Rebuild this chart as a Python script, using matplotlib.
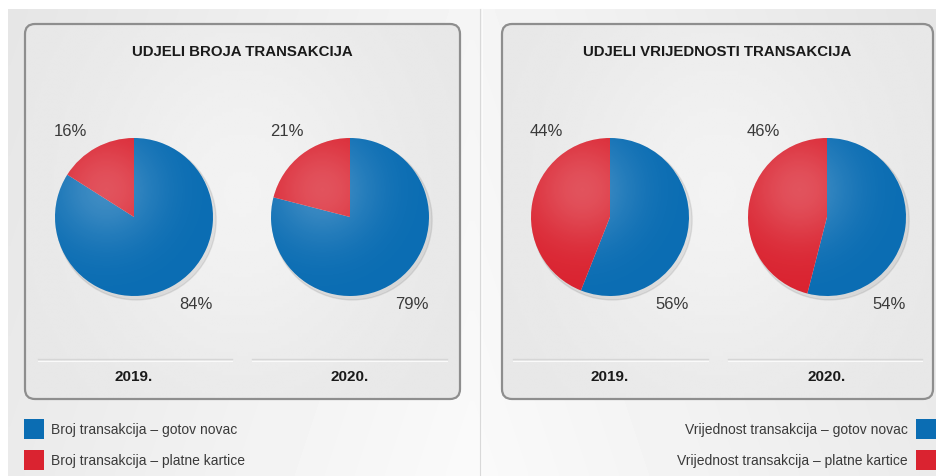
import numpy as np
import matplotlib
matplotlib.use('Agg')
import matplotlib.pyplot as plt
from matplotlib.patches import FancyBboxPatch, Rectangle, Circle

plt.rcParams['font.family'] = ['Liberation Sans', 'DejaVu Sans']

# DATA
panel_titles = ['UDJELI BROJA TRANSAKCIJA', 'UDJELI VRIJEDNOSTI TRANSAKCIJA']
years = ['2019.', '2020.']
cash_share = [[84, 79], [56, 54]]   # gotov novac
card_share = [[16, 21], [44, 46]]   # platne kartice
legend_left = ['Broj transakcija – gotov novac', 'Broj transakcija – platne kartice']
legend_right = ['Vrijednost transakcija – gotov novac', 'Vrijednost transakcija – platne kartice']

BLUE = '#0b6db3'
RED = '#da2330'
TXT = '#3a3a3a'

W, H = 936, 477
fig = plt.figure(figsize=(W / 100, H / 100), dpi=100)
fig.patch.set_facecolor('white')

bg = fig.add_axes([0, 0, 1, 1])
bg.set_xlim(0, W)
bg.set_ylim(H, 0)
bg.axis('off')

# page background with soft gradient
xx, yy = np.meshgrid(np.linspace(0, 1, 200), np.linspace(0, 1, 100))
grad = 0.90 + 0.06 * (1 - np.abs(xx - 0.5) * 2) + 0.02 * yy
bg.imshow(grad, cmap='gray', vmin=0, vmax=1, extent=[8, W, H, 10],
          aspect='auto', interpolation='bilinear', zorder=0)
bg.plot([480, 480], [10, H], color='#d9d9d9', lw=0.8, zorder=1)
bg.plot([482, 482], [10, H], color='#fbfbfb', lw=0.8, zorder=1)

# panels
panels = [(25, 460), (502, 933)]
pie_cx = [[134, 350], [610, 827]]
pie_cy = 218
R = 79
lines_x = [[(38, 232), (252, 447)], [(513, 708), (728, 922)]]

pg = 0.905 + 0.045 * np.exp(-((xx - 0.5) ** 2) / 0.12 - ((yy - 0.45) ** 2) / 0.25)

for p, (x0, x1) in enumerate(panels):
    box = FancyBboxPatch((x0, 25), x1 - x0, 375,
                         boxstyle='round,pad=0,rounding_size=10',
                         facecolor='none', edgecolor='#8e8e8e', lw=1.6, zorder=3)
    bg.add_patch(box)
    im = bg.imshow(pg, cmap='gray', vmin=0, vmax=1, extent=[x0, x1, 400, 25],
                   aspect='auto', interpolation='bilinear', zorder=2)
    im.set_clip_path(box)
    bg.text((x0 + x1) / 2, 52, panel_titles[p], ha='center', va='center',
            fontsize=10.8, fontweight='bold', color='#1a1a1a', zorder=4)
    for j, (lx0, lx1) in enumerate(lines_x[p]):
        bg.plot([lx0, lx1], [360, 360], color='#d6d6d6', lw=1, zorder=4)
        bg.plot([lx0, lx1], [361.5, 361.5], color='#fafafa', lw=0.8, zorder=4)
        bg.text(pie_cx[p][j], 377, years[j], ha='center', va='center',
                fontsize=11, fontweight='bold', color='#1a1a1a', zorder=4)

# label offsets in pie radius units (style only)
red_pos = (-0.80, 1.09)
blue_pos = (0.78, -1.10)

hx, hy = np.meshgrid(np.linspace(-1, 1, 200), np.linspace(1, -1, 200))
highlight = np.zeros((200, 200, 4))
highlight[..., :3] = 1.0
highlight[..., 3] = 0.22 * np.exp(-((hx + 0.35) ** 2 + (hy - 0.35) ** 2) / 0.45)

for p in range(2):
    for j in range(2):
        cx = pie_cx[p][j]
        ax = fig.add_axes([(cx - R) / W, 1 - (pie_cy + R) / H, 2 * R / W, 2 * R / H])
        ax.set_facecolor('none')
        shadow = Circle((0.03, -0.04), 1.01, color='#000000', alpha=0.08, zorder=0,
                        clip_on=False)
        ax.add_patch(shadow)
        ax.pie([cash_share[p][j], card_share[p][j]], colors=[BLUE, RED],
               startangle=90, counterclock=False, radius=1,
               wedgeprops=dict(linewidth=0))
        circ = Circle((0, 0), 1, transform=ax.transData, facecolor='none', edgecolor='none')
        ax.add_patch(circ)
        him = ax.imshow(highlight, extent=[-1, 1, -1, 1], zorder=5, interpolation='bilinear')
        him.set_clip_path(circ)
        ax.set_xlim(-1, 1)
        ax.set_ylim(-1, 1)
        ax.set_aspect('equal')
        ax.axis('off')
        ax.text(red_pos[0], red_pos[1], f'{card_share[p][j]}%', ha='center', va='center',
                fontsize=12, color=TXT)
        ax.text(blue_pos[0], blue_pos[1], f'{cash_share[p][j]}%', ha='center', va='center',
                fontsize=12, color=TXT)

# legends
for k, col in enumerate([BLUE, RED]):
    y = 420 + k * 31
    bg.add_patch(Rectangle((24, y), 20, 20, facecolor=col, edgecolor='none', zorder=4))
    bg.text(51, y + 10, legend_left[k], ha='left', va='center', fontsize=10, color=TXT, zorder=4)
    bg.add_patch(Rectangle((916, y), 20, 20, facecolor=col, edgecolor='none', zorder=4))
    bg.text(908, y + 10, legend_right[k], ha='right', va='center', fontsize=10, color=TXT, zorder=4)

fig.savefig('out.png', dpi=100, facecolor=fig.get_facecolor())
